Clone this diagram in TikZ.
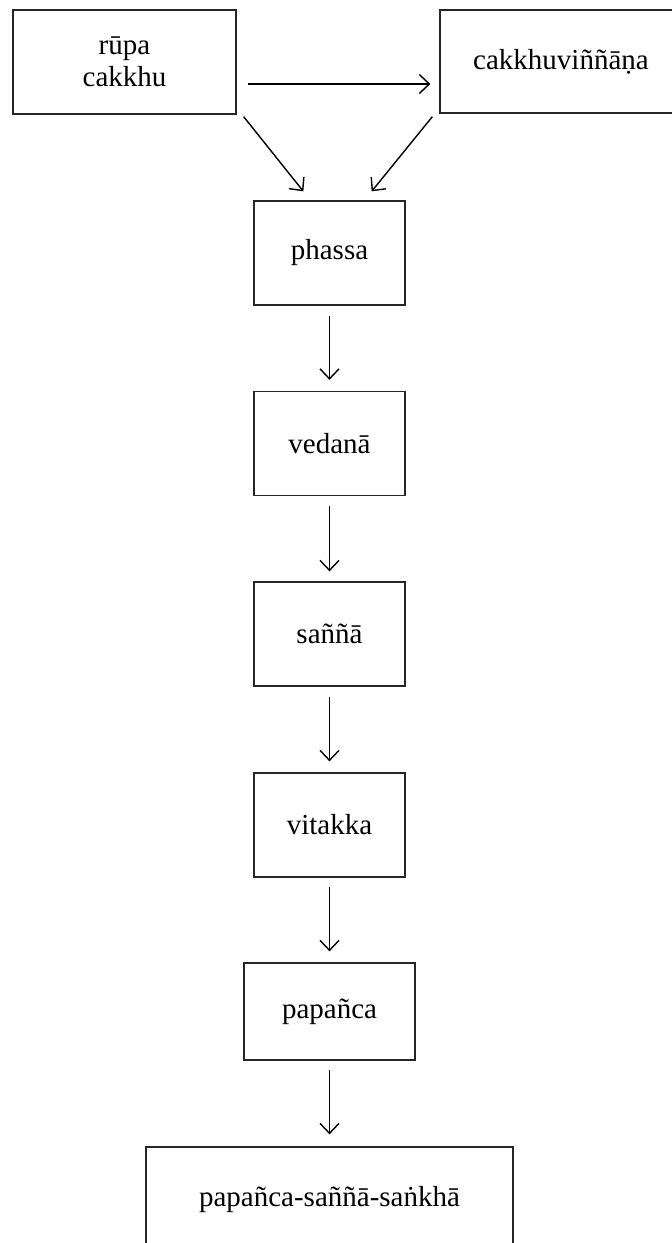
\documentclass[tikz,border=0pt]{standalone}
\usepackage{fontspec}
\setmainfont{Liberation Serif}
\usetikzlibrary{arrows.meta}
\begin{document}
\begin{tikzpicture}[x=1pt,y=-1pt,
  box/.style={draw=black!85, line width=1.3pt, inner sep=0pt, align=center,
    font=\fontsize{29}{32}\selectfont},
  chainbox/.style={box, minimum width=151pt, minimum height=104pt},
  arr/.style={line width=1.4pt, -{Straight Barb[length=10pt,width=19pt]}}]
\useasboundingbox (0,0) rectangle (672,1243);
\clip (0,0) rectangle (672,1243);

% sense base and object, and the resulting consciousness
\node[box, minimum width=223pt, minimum height=104pt] (rupa) at (124.5,62) {rūpa\\cakkhu};
\node[box, minimum width=242pt, minimum height=103pt] (vinnana) at (561,61.5) {cakkhuviññāṇa};

% the chain
\node[chainbox] (phassa)  at (329.5,253)   {phassa};
\node[chainbox] (vedana)  at (329.5,443.5) {vedanā};
\node[chainbox] (sanna)   at (329.5,634)   {saññā};
\node[chainbox] (vitakka) at (329.5,825)   {vitakka};
\node[box, minimum width=171pt, minimum height=97pt] (papanca) at (329.5,1011.5) {papañca};
\node[box, minimum width=367pt, minimum height=106pt] (pss) at (329.5,1200) {papañca-saññā-saṅkhā};

% connectors (shifts are in picture units, y grows downwards)
\draw[arr] ([shift={(11,22)}]rupa.east) -- ([shift={(-9,22.5)}]vinnana.west);
\draw[arr] ([shift={(7,2)}]rupa.south east) -- ([shift={(50,-9)}]phassa.north west);
\draw[arr] ([shift={(-7,3)}]vinnana.south west) -- ([shift={(-34,-9)}]phassa.north east);
\draw[arr] ([shift={(0,10)}]phassa.south)  -- ([shift={(0,-11)}]vedana.north);
\draw[arr] ([shift={(0,10)}]vedana.south)  -- ([shift={(0,-10)}]sanna.north);
\draw[arr] ([shift={(0,10)}]sanna.south)   -- ([shift={(0,-11)}]vitakka.north);
\draw[arr] ([shift={(0,9)}]vitakka.south)  -- ([shift={(0,-11)}]papanca.north);
\draw[arr] ([shift={(0,9)}]papanca.south)  -- ([shift={(0,-12)}]pss.north);
\end{tikzpicture}
\end{document}
